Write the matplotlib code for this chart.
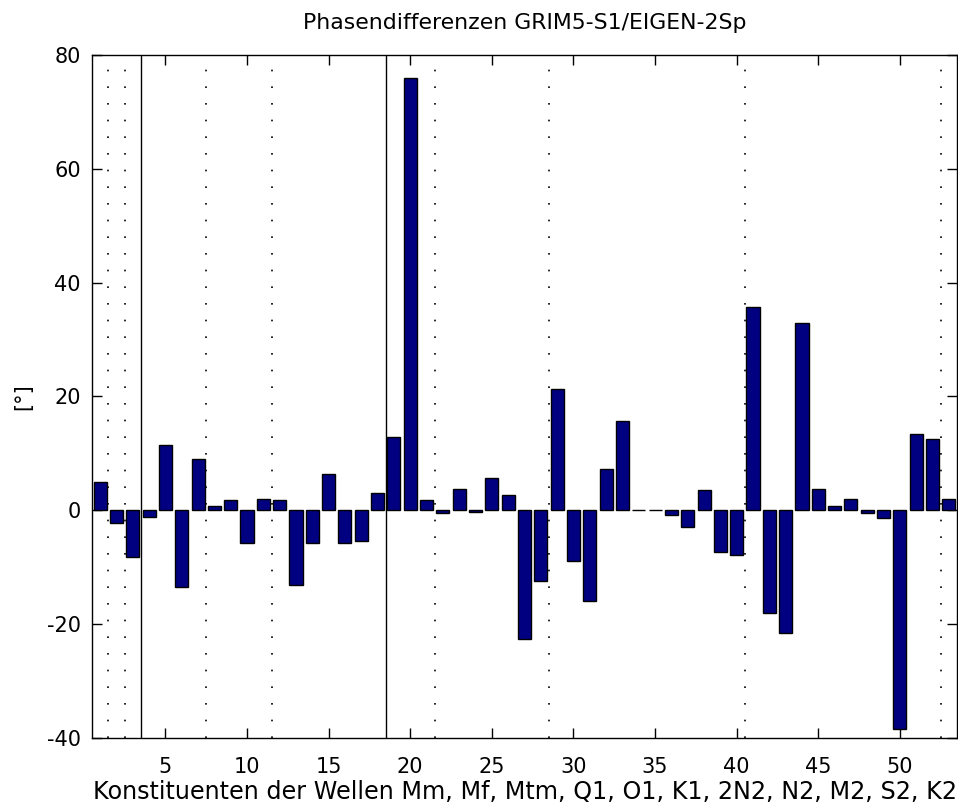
import matplotlib
matplotlib.use('Agg')
import matplotlib.pyplot as plt
import numpy as np

plt.rcParams['font.family'] = ['DejaVu Sans']
plt.rcParams['axes.unicode_minus'] = False

# Phasendifferenzen je Konstituente (Grad)
phase_diff = [
    4.9, -2.2, -8.2, -1.2, 11.5, -13.5, 9.1, 0.75, 1.8, -5.7,
    2.05, 1.8, -13.1, -5.7, 6.3, -5.7, -5.4, 3.1, 12.9, 76.0,
    1.8, -0.4, 3.8, -0.3, 5.6, 2.7, -22.6, -12.4, 21.4, -8.9,
    -15.9, 7.3, 15.7, 0.0, 0.0, -0.8, -2.9, 3.5, -7.4, -7.8,
    35.7, -18.0, -21.5, 33.0, 3.8, 0.75, 2.05, -0.45, -1.4, -38.4,
    13.4, 12.6, 2.05,
]
dotted_sep = [1.5, 2.5, 7.5, 11.5, 21.5, 28.5, 40.5, 52.5]
solid_sep = [3.5, 18.5]
x_ticks = [5, 10, 15, 20, 25, 30, 35, 40, 45, 50]
y_ticks = [-40, -20, 0, 20, 40, 60, 80]

idx = np.arange(1, len(phase_diff) + 1)

fig = plt.figure(figsize=(9.58, 8.10), dpi=100)
ax = fig.add_axes([0.096, 0.089, 0.903, 0.843])

ax.bar(idx, phase_diff, width=0.8, color='#000080', edgecolor='black',
       linewidth=1.0, zorder=2)

for xs in dotted_sep:
    ax.axvline(xs, color='black', linestyle=(0, (1, 9)), linewidth=1.2, zorder=1)
for xs in solid_sep:
    ax.axvline(xs, color='black', linestyle='-', linewidth=1.0, zorder=3)

ax.set_xlim(0.5, 53.5)
ax.set_ylim(-40, 80)
ax.set_xticks(x_ticks)
ax.set_yticks(y_ticks)
ax.tick_params(direction='in', length=7, width=1, top=True, right=True,
               labelsize=15)
ax.tick_params(axis='x', pad=14)
ax.tick_params(axis='y', pad=8)
for sp in ax.spines.values():
    sp.set_linewidth(1.0)

ax.set_title('Phasendifferenzen GRIM5-S1/EIGEN-2Sp', fontsize=15.8, pad=19)
ax.set_xlabel('Konstituenten der Wellen Mm, Mf, Mtm, Q1, O1, K1, 2N2, N2, M2, S2, K2',
              fontsize=17.2, labelpad=2)
ax.set_ylabel('[°]', fontsize=15, labelpad=10)

fig.savefig('out.png', dpi=100)
